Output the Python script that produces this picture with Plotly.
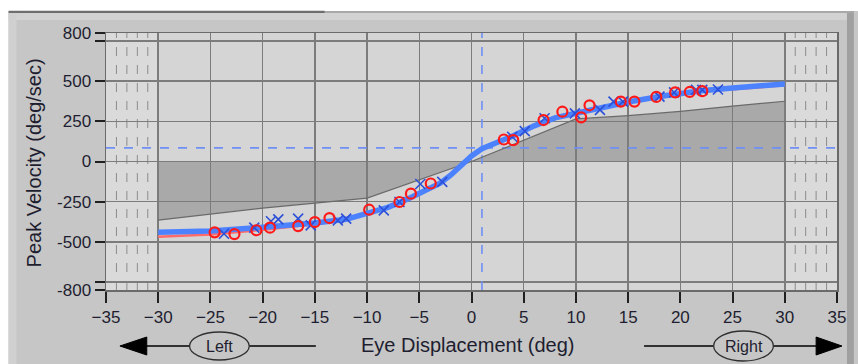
import plotly.graph_objects as go

# ---------------- data ----------------
# fitted curves (blue = main fit, red = second fit underneath)
fit_x = [-30, -25, -20, -17, -15, -12, -10, -8, -6, -4, -3, -2, -1, 0, 1, 2, 3, 4, 6, 8, 10, 12, 15, 18, 20, 22, 25, 28, 30]
blue_fit_y = [-440, -432, -410, -395, -383, -360, -325, -285, -230, -165, -135, -85, -20, 35, 80, 105, 133, 160, 222, 272, 300, 330, 370, 405, 425, 440, 458, 470, 482]
red_fit_y = [-468, -455, -425, -405, -390, -362, -322, -280, -226, -160, -130, -82, -22, 30, 76, 100, 128, 156, 218, 268, 296, 328, 366, 400, 420, 436, 452, 465, 474]

# measured saccades
red_x = [-24.6, -22.7, -20.6, -19.3, -16.6, -15.0, -13.6, -9.8, -6.9, -5.8, -3.9, 3.1, 4.0, 6.9, 8.7, 10.5, 11.3, 14.3, 15.6, 17.7, 19.5, 20.9, 22.1]
red_y = [-441, -452, -428, -412, -402, -377, -352, -300, -252, -200, -137, 137, 133, 258, 310, 275, 350, 373, 373, 402, 430, 433, 438]

blue_x = [-23.7, -20.8, -19.2, -18.5, -16.6, -15.4, -12.8, -12.0, -8.4, -6.9, -4.9, -2.8, 3.9, 5.1, 7.0, 9.9, 12.3, 13.6, 14.5, 18.0, 19.4, 21.5, 22.1, 23.6]
blue_y = [-450, -412, -372, -360, -356, -398, -367, -356, -304, -252, -140, -127, 154, 189, 269, 300, 321, 373, 373, 404, 430, 446, 446, 448]

# normal-range (dark gray) boundary
norm_left_x = [-30, -20, -10, 0]
norm_left_y = [-365, -290, -228, 0]
norm_right_x = [0, 10, 15, 20, 25, 30]
norm_right_y = [0, 265, 285, 312, 345, 375]

# cursor
cursor_x = 1
cursor_y = 85

# axes
x_ticks = [-35, -30, -25, -20, -15, -10, -5, 0, 5, 10, 15, 20, 25, 30, 35]
y_tickvals = [-800, -750, -500, -250, 0, 250, 500, 750, 800]
y_ticktext = ["-800", "", "-500", "-250", "0", "250", "500", "", "800"]
x_range = [-35, 35]
y_range = [-800, 800]
valid_range = [-30, 30]

# ---------------- layout geometry (page pixels) ----------------
W, H = 858, 364
PL, PR, PT, PB = 106, 841, 33, 290          # plot area
PW = PR - PL
PH = PB - PT


def px(xp):
    return (xp - PL) / PW


def py(yp):
    return (PB - yp) / PH


FONT = "Liberation Sans"
TXT = "#1e1e30"

fig = go.Figure()

# edge of the normal band
fig.add_trace(go.Scatter(x=norm_left_x, y=norm_left_y, mode="lines", line=dict(color="#6a6a6a", width=1.2),
                         hoverinfo="skip", showlegend=False))
fig.add_trace(go.Scatter(x=norm_right_x, y=norm_right_y, mode="lines", line=dict(color="#6a6a6a", width=1.2),
                         hoverinfo="skip", showlegend=False))
fig.add_trace(go.Scatter(x=fit_x, y=red_fit_y, mode="lines",
                         line=dict(color="#ff6a6a", width=2.5), hoverinfo="skip", showlegend=False))
fig.add_trace(go.Scatter(x=fit_x, y=blue_fit_y, mode="lines",
                         line=dict(color="#4d82ff", width=5.5), hoverinfo="skip", showlegend=False))
fig.add_trace(go.Scatter(x=blue_x, y=blue_y, mode="markers",
                         marker=dict(symbol="x-thin-open", size=10, color="#2c50d8",
                                     line=dict(color="#2c50d8", width=1.6)),
                         showlegend=False))
fig.add_trace(go.Scatter(x=red_x, y=red_y, mode="markers",
                         marker=dict(symbol="circle-open", size=10, color="#ff1a1a",
                                     line=dict(color="#ff1a1a", width=2.2)),
                         showlegend=False))

shapes = []

# outer (out of range) regions, lighter with dashed lines
for a, b in [(x_range[0], valid_range[0]), (valid_range[1], x_range[1])]:
    shapes.append(dict(type="rect", xref="x", yref="y", x0=a, x1=b, y0=y_range[0], y1=y_range[1],
                       fillcolor="#dadada", line=dict(width=0), layer="below"))
    for k in range(int(min(a, b)) + 1, int(max(a, b))):
        shapes.append(dict(type="line", xref="x", yref="y", x0=k, x1=k, y0=y_range[0], y1=y_range[1],
                           line=dict(color="#8c8c8c", width=1, dash="dash"), layer="below"))


# dark normal-range fill (closed down to the zero line)
def band_path(xs, ys):
    pts = [(xs[0], 0)] + list(zip(xs, ys)) + [(xs[-1], 0)]
    return "M " + " L ".join(f"{x},{y}" for x, y in pts) + " Z"


shapes.append(dict(type="path", xref="x", yref="y", path=band_path(norm_left_x, norm_left_y),
                   fillcolor="#a9a9a9", line=dict(width=0), layer="below"))
shapes.append(dict(type="path", xref="x", yref="y", path=band_path(norm_right_x, norm_right_y),
                   fillcolor="#a9a9a9", line=dict(width=0), layer="below"))

# cursor cross-hair
shapes.append(dict(type="line", xref="x", yref="y", x0=x_range[0], x1=x_range[1], y0=cursor_y, y1=cursor_y,
                   line=dict(color="#6f8ff5", width=1.6, dash="dash"), layer="between"))
shapes.append(dict(type="line", xref="x", yref="y", x0=cursor_x, x1=cursor_x, y0=y_range[0], y1=y_range[1],
                   line=dict(color="#6f8ff5", width=1.6, dash="dash"), layer="between"))

# frame decorations (white margins, top line, right edge)
shapes.append(dict(type="rect", xref="paper", yref="paper", x0=px(-5), x1=px(W + 5), y0=py(11), y1=py(-5),
                   fillcolor="white", line=dict(width=0), layer="above"))
shapes.append(dict(type="rect", xref="paper", yref="paper", x0=px(-5), x1=px(8), y0=py(H + 5), y1=py(-5),
                   fillcolor="white", line=dict(width=0), layer="above"))
shapes.append(dict(type="line", xref="paper", yref="paper", x0=px(8), x1=px(326), y0=py(12), y1=py(12),
                   line=dict(color="#6e6e6e", width=2.5), layer="above"))
shapes.append(dict(type="line", xref="paper", yref="paper", x0=px(326), x1=px(W), y0=py(12), y1=py(12),
                   line=dict(color="#a8a8a8", width=2), layer="above"))
shapes.append(dict(type="rect", xref="paper", yref="paper", x0=px(8), x1=px(W), y0=py(13), y1=py(20),
                   fillcolor="#d2d2d2", line=dict(width=0), layer="above"))
shapes.append(dict(type="rect", xref="paper", yref="paper", x0=px(8), x1=px(16), y0=py(H), y1=py(13),
                   fillcolor="#d0d0d0", line=dict(width=0), layer="above"))
shapes.append(dict(type="rect", xref="paper", yref="paper", x0=px(851), x1=px(W), y0=py(H), y1=py(13),
                   fillcolor="#a0a0a0", line=dict(width=0), layer="above"))

# Left / Right direction indicators
ARROW_Y = 346
shapes += [
    dict(type="line", xref="paper", yref="paper", x0=px(145), x1=px(190), y0=py(ARROW_Y), y1=py(ARROW_Y),
         line=dict(color="black", width=1.5), layer="above"),
    dict(type="line", xref="paper", yref="paper", x0=px(250), x1=px(317), y0=py(ARROW_Y), y1=py(ARROW_Y),
         line=dict(color="black", width=1.5), layer="above"),
    dict(type="path", xref="paper", yref="paper",
         path=f"M {px(120)},{py(ARROW_Y)} L {px(147)},{py(ARROW_Y - 9)} L {px(147)},{py(ARROW_Y + 9)} Z",
         fillcolor="black", line=dict(color="black", width=1), layer="above"),
    dict(type="circle", xref="paper", yref="paper", x0=px(190), x1=px(250), y0=py(ARROW_Y - 14), y1=py(ARROW_Y + 14),
         line=dict(color="#303030", width=1.3), fillcolor="rgba(0,0,0,0)", layer="above"),
    dict(type="line", xref="paper", yref="paper", x0=px(647), x1=px(717), y0=py(ARROW_Y), y1=py(ARROW_Y),
         line=dict(color="black", width=1.5), layer="above"),
    dict(type="line", xref="paper", yref="paper", x0=px(777), x1=px(822), y0=py(ARROW_Y), y1=py(ARROW_Y),
         line=dict(color="black", width=1.5), layer="above"),
    dict(type="path", xref="paper", yref="paper",
         path=f"M {px(846)},{py(ARROW_Y)} L {px(820)},{py(ARROW_Y - 9)} L {px(820)},{py(ARROW_Y + 9)} Z",
         fillcolor="black", line=dict(color="black", width=1), layer="above"),
    dict(type="circle", xref="paper", yref="paper", x0=px(717), x1=px(777), y0=py(ARROW_Y - 15), y1=py(ARROW_Y + 15),
         line=dict(color="#303030", width=1.3), fillcolor="rgba(0,0,0,0)", layer="above"),
]

annotations = [
    dict(xref="paper", yref="paper", x=px(220), y=py(ARROW_Y), text="Left", showarrow=False,
         font=dict(family=FONT, size=16, color=TXT), xanchor="center", yanchor="middle"),
    dict(xref="paper", yref="paper", x=px(747), y=py(ARROW_Y), text="Right", showarrow=False,
         font=dict(family=FONT, size=16, color=TXT), xanchor="center", yanchor="middle"),
    dict(xref="paper", yref="paper", x=px(469), y=py(345), text="Eye Displacement (deg)", showarrow=False,
         font=dict(family=FONT, size=20, color=TXT), xanchor="center", yanchor="middle"),
    dict(xref="paper", yref="paper", x=px(34), y=py(163), text="Peak Velocity (deg/sec)", showarrow=False,
         textangle=-90, font=dict(family=FONT, size=20, color=TXT), xanchor="center", yanchor="middle"),
]

fig.update_layout(
    width=W, height=H,
    margin=dict(l=PL, r=W - PR, t=PT, b=H - PB, pad=0),
    paper_bgcolor="#c6c6c6",
    plot_bgcolor="#d5d5d5",
    shapes=shapes,
    annotations=annotations,
    showlegend=False,
    hovermode=False,
    font=dict(family=FONT, size=17, color=TXT),
    xaxis=dict(range=x_range, tickvals=x_ticks, ticks="outside", ticklen=11, tickwidth=2, tickcolor="#202020",
               showgrid=True, gridcolor="#7c7c7c", gridwidth=1.5, zeroline=False,
               showline=True, linecolor="#6a6a6a", linewidth=1.5, mirror=True,
               tickfont=dict(family=FONT, size=17, color=TXT), fixedrange=True),
    yaxis=dict(range=y_range, tickvals=y_tickvals, ticktext=y_ticktext, ticks="outside", ticklen=10, tickwidth=2,
               tickcolor="#202020",
               showgrid=True, gridcolor="#7c7c7c", gridwidth=1.5, zeroline=False,
               showline=True, linecolor="#6a6a6a", linewidth=1.5, mirror=True,
               tickfont=dict(family=FONT, size=17, color=TXT), fixedrange=True),
)

# remove the default page margin so the figure sits at the window origin
fig.write_html("out.html",
               config={"displayModeBar": False, "staticPlot": True},
               post_script="document.body.style.margin='0';document.body.style.overflow='hidden';")
